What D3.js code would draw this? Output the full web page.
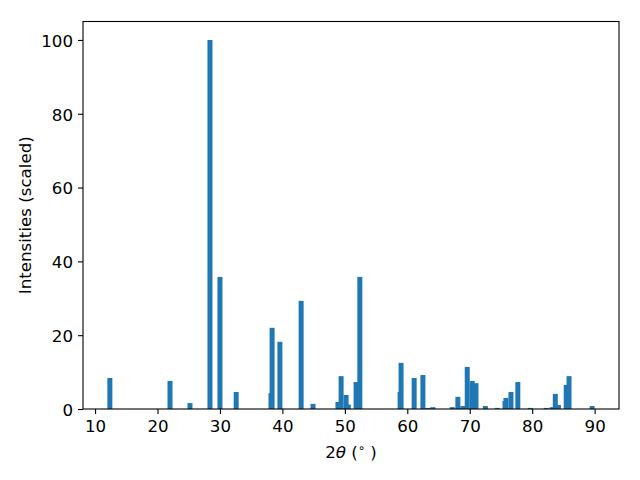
<!DOCTYPE html>
<html>
<head>
<meta charset="utf-8">
<script src="https://cdn.jsdelivr.net/npm/d3@7"></script>
<style>
  html, body { margin: 0; padding: 0; background: #ffffff; }
  svg { display: block; }
  text { font-family: "DejaVu Sans", sans-serif; fill: #000; }
</style>
</head>
<body>
<svg id="chart" width="640" height="480"></svg>
<script>
// ---- data (2θ positions in degrees, scaled intensities) ----
const positions = [
  12.37, 22.0, 25.2, 28.4, 30.0, 32.6,
  38.17, 38.35, 39.6, 43.0, 44.9,
  48.9, 49.4, 50.2, 50.55, 51.8, 52.4,
  58.85, 59.0, 61.1, 62.5, 63.3, 64.1,
  67.2, 68.1, 68.9, 69.6, 70.4, 71.0, 72.5, 74.4,
  75.65, 75.8, 76.6, 77.7, 79.7,
  82.25, 83.2, 83.7, 84.2, 85.45, 85.9, 89.6
];
const intensities = [
  8.4, 7.6, 1.6, 100, 35.8, 4.6,
  4.3, 22.0, 18.2, 29.3, 1.4,
  1.9, 8.9, 3.8, 1.2, 7.3, 35.8,
  4.6, 12.5, 8.4, 9.2, 0.3, 0.5,
  0.5, 3.3, 0.8, 11.4, 7.6, 7.0, 0.8, 0.3,
  2.2, 3.0, 4.6, 7.3, 0.3,
  0.3, 0.5, 4.1, 1.1, 6.5, 8.9, 0.8
];
const xTicks = [10, 20, 30, 40, 50, 60, 70, 80, 90];
const yTicks = [0, 20, 40, 60, 80, 100];
const yLabel = "Intensities (scaled)";
const barWidth = 0.8;

// ---- layout ----
const plotLeft = 83, plotRight = 619, plotTop = 21.5, plotBottom = 409;
const fontPx = 16.67;

const data = positions.map((p, i) => ({ x: p, v: intensities[i] }));

const xmin = d3.min(positions) - barWidth / 2;
const xmax = d3.max(positions) + barWidth / 2;
const xpad = (xmax - xmin) * 0.05;
const x = d3.scaleLinear().domain([xmin - xpad, xmax + xpad]).range([plotLeft, plotRight]);
const ymax = d3.max(intensities) * 1.05;
const y = d3.scaleLinear().domain([0, ymax]).range([plotBottom, plotTop]);

const svg = d3.select("#chart");

// bars
svg.append("g").selectAll("rect").data(data).enter().append("rect")
  .attr("x", d => x(d.x - barWidth / 2))
  .attr("width", d => x(d.x + barWidth / 2) - x(d.x - barWidth / 2))
  .attr("y", d => y(d.v))
  .attr("height", d => y(0) - y(d.v))
  .attr("fill", "#1f77b4");

// axes
const xAxis = d3.axisBottom(x).tickValues(xTicks).tickSize(5).tickSizeOuter(0).tickPadding(6)
  .tickFormat(d3.format("d"));
const gx = svg.append("g").attr("transform", `translate(0,${plotBottom})`).call(xAxis);
const yAxis = d3.axisLeft(y).tickValues(yTicks).tickSize(5).tickSizeOuter(0).tickPadding(5)
  .tickFormat(d3.format("d"));
const gy = svg.append("g").attr("transform", `translate(${plotLeft},0)`).call(yAxis);

[gx, gy].forEach(g => {
  g.select(".domain").remove();
  g.selectAll(".tick line").attr("stroke", "#000").attr("stroke-width", 1.1);
  g.selectAll(".tick text").attr("font-size", fontPx).attr("font-family", "DejaVu Sans").attr("fill", "#000");
});
gy.selectAll(".tick text").attr("dy", "0.38em");

// spines
svg.append("rect")
  .attr("x", plotLeft).attr("y", plotTop)
  .attr("width", plotRight - plotLeft).attr("height", plotBottom - plotTop)
  .attr("fill", "none").attr("stroke", "#000").attr("stroke-width", 1.1);

// x label: 2θ (°)
const xl = svg.append("text")
  .attr("x", (plotLeft + plotRight) / 2).attr("y", 457.5)
  .attr("text-anchor", "middle").attr("font-size", fontPx);
xl.append("tspan").text("2");
xl.append("tspan").attr("font-style", "italic").text("θ");
xl.append("tspan").text(" (");
xl.append("tspan").attr("font-size", fontPx * 0.7).attr("dy", -6).text("∘");
xl.append("tspan").attr("dy", 6).text(" )");

// y label
svg.append("text")
  .attr("transform", `translate(30.5,${(plotTop + plotBottom) / 2}) rotate(-90)`)
  .attr("text-anchor", "middle").attr("font-size", fontPx)
  .text(yLabel);
</script>
</body>
</html>
